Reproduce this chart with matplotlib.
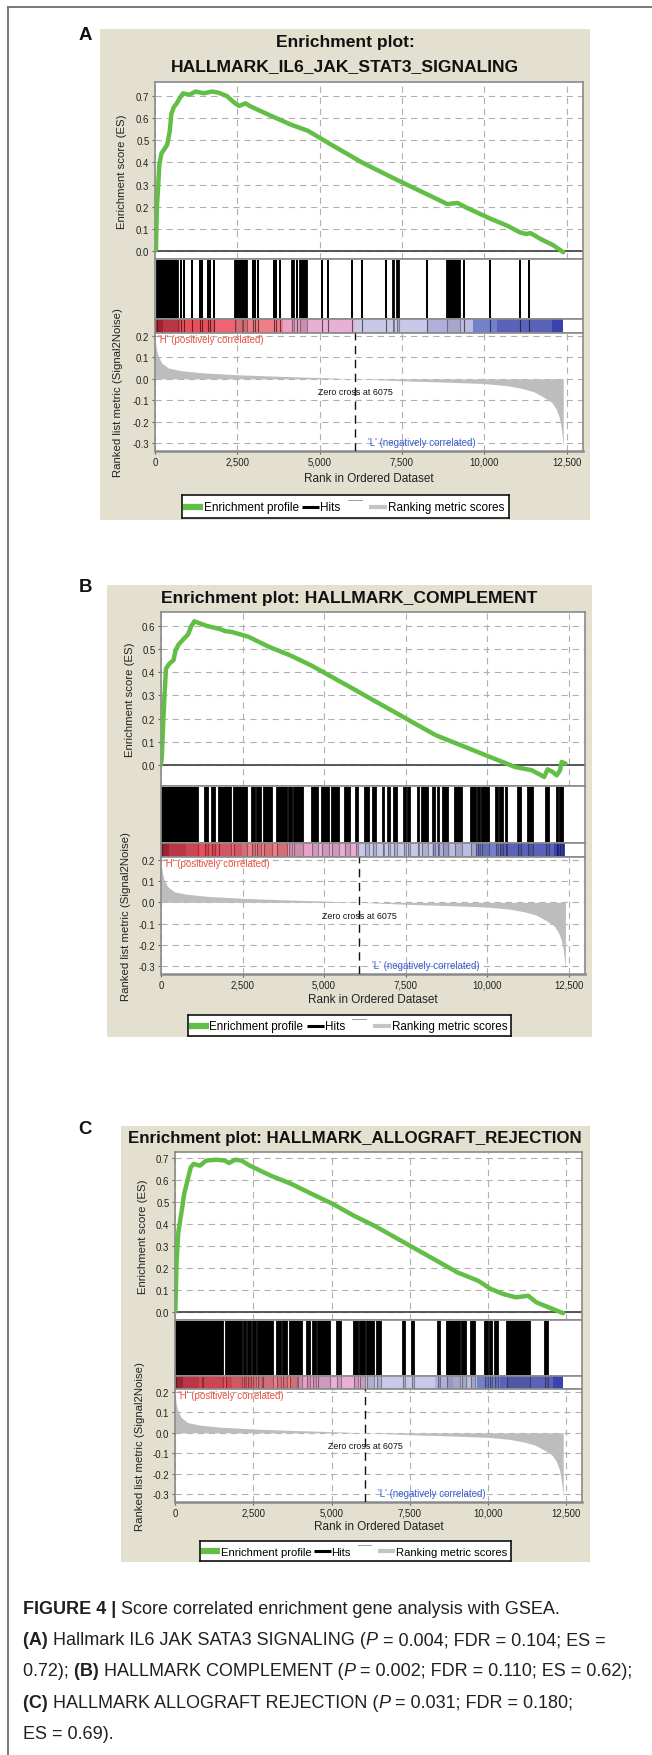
import numpy as np
import matplotlib
matplotlib.use("Agg")
import matplotlib.pyplot as plt
from matplotlib.lines import Line2D
from matplotlib.patches import Rectangle
from matplotlib.transforms import IdentityTransform

W, H, DPI = 652, 1756, 100
plt.rcParams['font.family'] = ['Liberation Sans', 'DejaVu Sans']
plt.rcParams['lines.scale_dashes'] = False

# ---------------- shared ranked gene list (Signal2Noise) ----------------
metric_rank = [0, 15, 40, 90, 200, 410, 800, 1450, 2500, 3750, 5000, 6075,
               7500, 8750, 10000, 10700, 11150, 11500, 11800, 12050, 12180,
               12280, 12340, 12370, 12400]
metric_value = [0.21, 0.17, 0.14, 0.11, 0.075, 0.05, 0.038, 0.028, 0.019,
                0.012, 0.006, 0.0, -0.009, -0.015, -0.022, -0.032, -0.045,
                -0.06, -0.085, -0.11, -0.14, -0.18, -0.23, -0.27, -0.32]
zero_cross = 6075

# colour bar of the ranked list (rank boundaries of each colour band)
band_edges = [0, 250, 760, 1820, 2490, 3890, 4610, 6075, 8300, 8870, 9660,
              10390, 12060, 12400]
band_colors = ['#b02a3a', '#d63e4e', '#e8505e', '#ee6472', '#f07e88',
               '#e9a2c6', '#e9b0d6', '#c8c9e8', '#b0aedb', '#bdbde3',
               '#7480c8', '#5b62b9', '#3a42ae']

x_ticks = [0, 2500, 5000, 7500, 10000, 12500]
x_tick_labels = ['0', '2,500', '5,000', '7,500', '10,000', '12,500']
metric_ticks = [0.2, 0.1, 0.0, -0.1, -0.2, -0.3]
metric_tick_labels = ['0.2', '0.1', '0.0', '-0.1', '-0.2', '-0.3']

# ---------------- HALLMARK_IL6_JAK_STAT3_SIGNALING ----------------
il6_rank = [0, 30, 56, 93, 131, 195, 283, 371, 447, 498, 573, 662, 750, 852,
            1041, 1231, 1483, 1736, 1925, 2178, 2431, 2558, 2747, 2874, 3379,
            4137, 4642, 5400, 6284, 7295, 7927, 8559, 8875, 9191, 9444, 10202,
            10707, 11086, 11275, 11402, 11718, 12097, 12400]
il6_es = [0.0, 0.01, 0.195, 0.285, 0.39, 0.44, 0.46, 0.48, 0.54, 0.62, 0.65,
          0.667, 0.69, 0.712, 0.705, 0.72, 0.712, 0.72, 0.715, 0.70, 0.667,
          0.655, 0.667, 0.655, 0.62, 0.57, 0.543, 0.476, 0.40, 0.325, 0.28,
          0.235, 0.212, 0.217, 0.197, 0.145, 0.114, 0.084, 0.077, 0.081,
          0.054, 0.026, -0.005]
il6_es_ticks = [0.0, 0.1, 0.2, 0.3, 0.4, 0.5, 0.6, 0.7]
il6_hits = [(52, 710), (780, 780), (890, 890), (1115, 1115), (1367, 1367),
            (1418, 1418), (1620, 1620), (1671, 1671), (1803, 1803),
            (2431, 2640), (2670, 2806), (2988, 2988), (3049, 3049),
            (3140, 3140), (3616, 3616), (3677, 3677), (3798, 3798),
            (4154, 4224), (4306, 4306), (4406, 4609), (5084, 5084),
            (5247, 5247), (5996, 5996), (6290, 6290), (7017, 7017),
            (7222, 7262), (7343, 7423), (8254, 8254), (8863, 9268),
            (9400, 9400), (10179, 10179), (11091, 11091), (11374, 11374)]

# ---------------- HALLMARK_COMPLEMENT ----------------
comp_rank = [0, 26, 64, 102, 153, 255, 383, 447, 536, 702, 830, 919, 1022,
             1149, 1405, 1788, 1979, 2171, 2682, 3320, 3959, 4597, 5236, 5874,
             6513, 7151, 7790, 8428, 9067, 9705, 10344, 10855, 11365, 11621,
             11749, 11851, 12004, 12132, 12234, 12285, 12400]
comp_es = [0.0, 0.04, 0.17, 0.286, 0.416, 0.437, 0.452, 0.495, 0.519, 0.545,
           0.563, 0.596, 0.62, 0.613, 0.6, 0.587, 0.577, 0.574, 0.553, 0.509,
           0.473, 0.43, 0.38, 0.33, 0.279, 0.229, 0.178, 0.128, 0.092, 0.056,
           0.02, -0.009, -0.023, -0.042, -0.052, -0.019, -0.03, -0.045,
           -0.023, 0.013, 0.006]
comp_es_ticks = [0.0, 0.1, 0.2, 0.3, 0.4, 0.5, 0.6]
comp_hits = [(40, 1130), (1355, 1437), (1560, 1663), (1786, 2155),
             (2237, 2637), (2791, 2894), (2946, 3058), (3150, 3408),
             (3571, 3848), (3920, 4023), (4064, 4351), (4640, 4803),
             (4948, 5151), (5254, 5459), (5634, 5810), (5973, 6055),
             (6259, 6382), (6487, 6589), (6795, 6844), (6949, 7020),
             (7152, 7226), (7460, 7512), (7583, 7645), (7872, 7922),
             (8005, 8180), (8334, 8396), (8488, 8538), (8642, 8796),
             (9021, 9236), (9513, 9667), (9720, 9791), (9852, 10058),
             (10262, 10335), (10406, 10490), (10570, 10613), (10951, 11053),
             (11259, 11413), (11801, 11905), (12131, 12182), (12232, 12337)]

# ---------------- HALLMARK_ALLOGRAFT_REJECTION ----------------
allo_rank = [0, 13, 53, 106, 173, 239, 292, 372, 438, 504, 597, 796, 995,
             1327, 1592, 1725, 1924, 2123, 2389, 3052, 3716, 4379, 5043, 5706,
             6370, 7033, 7697, 8360, 9024, 9687, 10085, 10483, 10881, 11280,
             11545, 11943, 12400]
allo_es = [0.0, 0.014, 0.24, 0.362, 0.423, 0.483, 0.536, 0.582, 0.62, 0.658,
           0.673, 0.665, 0.688, 0.692, 0.688, 0.677, 0.692, 0.688, 0.665,
           0.62, 0.582, 0.536, 0.491, 0.438, 0.392, 0.339, 0.286, 0.233,
           0.18, 0.142, 0.105, 0.082, 0.067, 0.074, 0.044, 0.021, -0.005]
allo_es_ticks = [0.0, 0.1, 0.2, 0.3, 0.4, 0.5, 0.6, 0.7]
allo_hits = [(32, 853), (906, 1546), (1620, 2131), (2206, 2270), (2344, 2420),
             (2504, 2590), (2664, 2770), (2803, 3123), (3271, 3379),
             (3443, 3571), (3676, 3890), (3943, 4050), (4230, 4316),
             (4401, 4508), (4582, 4955), (5169, 5297), (5723, 5860),
             (5914, 6074), (6148, 6362), (6448, 6576), (7289, 7362),
             (7577, 7640), (8385, 8462), (8673, 9101), (9175, 9281),
             (9453, 9581), (9900, 9985), (10061, 10134), (10220, 10326),
             (10592, 11339), (11819, 11902)]

caption_lines = [
    [("FIGURE 4 | ", 'bold', 'normal'),
     ("Score correlated enrichment gene analysis with GSEA.", 'normal', 'normal')],
    [("(A) ", 'bold', 'normal'), ("Hallmark IL6 JAK SATA3 SIGNALING (", 'normal', 'normal'),
     ("P", 'normal', 'italic'), (" = 0.004; FDR = 0.104; ES =", 'normal', 'normal')],
    [("0.72); ", 'normal', 'normal'), ("(B) ", 'bold', 'normal'),
     ("HALLMARK COMPLEMENT (", 'normal', 'normal'), ("P", 'normal', 'italic'),
     (" = 0.002; FDR = 0.110; ES = 0.62);", 'normal', 'normal')],
    [("(C) ", 'bold', 'normal'), ("HALLMARK ALLOGRAFT REJECTION (", 'normal', 'normal'),
     ("P", 'normal', 'italic'), (" = 0.031; FDR = 0.180;", 'normal', 'normal')],
    [("ES = 0.69).", 'normal', 'normal')],
]

# ---------------- styling ----------------
BEIGE = '#e3e0cf'
GREEN = '#62be45'
METRIC_GRAY = '#bdbdbd'
SPINE = '#8a8a8a'
GRID = dict(color='#b0b0b0', lw=0.8, linestyle=(0, (4.5, 3.5)))
XMAX = 13000

layouts = [
    dict(letter='A', letter_xy=(85, 36), bg=(100, 30, 590, 521),
         titles=[('Enrichment plot:', 43), ('HALLMARK_IL6_JAK_STAT3_SIGNALING', 67)],
         title_x=345, title_size=12.6,
         x0=155, x1=583, es=(83, 260), hits=(260, 320), cbar=(320, 334),
         metric=(334, 452), es_ylim=(-0.036, 0.763), metric_ylim=(-0.337, 0.214),
         xlabel_y=479, es_label_x=122, metric_label_x=118,
         legend=(182, 496, 509, 519), legend_size=8.5),
    dict(letter='B', letter_xy=(85, 587), bg=(107, 586, 592, 1038),
         titles=[('Enrichment plot: HALLMARK_COMPLEMENT', 599)],
         title_x=349, title_size=12.6,
         x0=161, x1=585, es=(613, 787), hits=(787, 844), cbar=(844, 858),
         metric=(858, 975), es_ylim=(-0.091, 0.66), metric_ylim=(-0.338, 0.214),
         xlabel_y=1000, es_label_x=130, metric_label_x=126,
         legend=(188, 1016, 511, 1037), legend_size=8.4),
    dict(letter='C', letter_xy=(85, 1129), bg=(121, 1127, 590, 1563),
         titles=[('Enrichment plot: HALLMARK_ALLOGRAFT_REJECTION', 1139)],
         title_x=355, title_size=12.2,
         x0=175, x1=582, es=(1153, 1321), hits=(1321, 1377), cbar=(1377, 1390),
         metric=(1390, 1503), es_ylim=(-0.036, 0.727), metric_ylim=(-0.339, 0.215),
         xlabel_y=1527, es_label_x=143, metric_label_x=140,
         legend=(200, 1542, 511, 1562), legend_size=8.1),
]
panel_data = [(il6_rank, il6_es, il6_es_ticks, il6_hits),
              (comp_rank, comp_es, comp_es_ticks, comp_hits),
              (allo_rank, allo_es, allo_es_ticks, allo_hits)]


def fx(x):
    return x / W


def fy(y):
    return 1 - y / H


def px_axes(fig, x0, y0, x1, y1):
    return fig.add_axes([x0 / W, 1 - y1 / H, (x1 - x0) / W, (y1 - y0) / H])


def frame(ax, color=SPINE, lw=1.2):
    for s in ax.spines.values():
        s.set_color(color)
        s.set_linewidth(lw)


def tick_style(ax):
    ax.tick_params(direction='out', length=2.5, width=0.8, color='#666666',
                   labelsize=6.9, labelcolor='#222222', pad=1.5)


def draw_panel(fig, L, es_rank, es_val, es_ticks, hits):
    bx0, by0, bx1, by1 = L['bg']
    fig.add_artist(Rectangle((fx(bx0), fy(by1)), (bx1 - bx0) / W, (by1 - by0) / H,
                             transform=fig.transFigure, facecolor=BEIGE,
                             edgecolor='none', zorder=-10))
    lx, ly = L['letter_xy']
    fig.text(fx(lx), fy(ly), L['letter'], fontsize=13.4, fontweight='bold',
             ha='center', va='center', color='#111111')
    for txt, ty in L['titles']:
        fig.text(fx(L['title_x']), fy(ty), txt, fontsize=L['title_size'],
                 fontweight='bold', ha='center', va='center', color='#111111')

    x0, x1 = L['x0'], L['x1']

    # enrichment score profile
    ax = px_axes(fig, x0, L['es'][0], x1, L['es'][1])
    ax.set_xlim(0, XMAX)
    ax.set_ylim(*L['es_ylim'])
    ax.set_axisbelow(True)
    ax.grid(True, **GRID)
    ax.axhline(0, color='#4a4a4a', lw=1.3, zorder=2)
    ax.plot(es_rank, es_val, color=GREEN, lw=3.2, solid_joinstyle='round',
            solid_capstyle='round', zorder=3)
    ax.set_xticks(x_ticks)
    ax.set_yticks(es_ticks)
    ax.set_yticklabels([f'{t:.1f}' for t in es_ticks])
    tick_style(ax)
    ax.tick_params(axis='x', length=0, labelbottom=False)
    frame(ax)

    # hit positions
    hx = px_axes(fig, x0, L['hits'][0], x1, L['hits'][1])
    hx.set_xlim(0, XMAX)
    hx.set_ylim(0, 1)
    for a, b in hits:
        if b > a:
            hx.bar(a, 0.96, width=b - a, bottom=0.02, align='edge', color='k', lw=0)
        hx.vlines([a, b], 0.02, 0.98, color='k', lw=1.3)
    hx.set_xticks([])
    hx.set_yticks([])
    frame(hx)

    # colour bar of the ranked list
    cx = px_axes(fig, x0, L['cbar'][0], x1, L['cbar'][1])
    cx.set_xlim(0, XMAX)
    cx.set_ylim(0, 1)
    cx.bar(band_edges[:-1], 1, width=np.diff(band_edges), align='edge',
           color=band_colors, lw=0)
    for a, b in hits:
        if b > a:
            cx.bar(a, 1, width=b - a, align='edge', color='k', alpha=0.12, lw=0)
        cx.vlines([a, b], 0, 1, color='k', alpha=0.35, lw=0.8)
    cx.set_xticks([])
    cx.set_yticks([])
    frame(cx)

    # ranked list metric
    mx = px_axes(fig, x0, L['metric'][0], x1, L['metric'][1])
    mx.set_xlim(0, XMAX)
    mx.set_ylim(*L['metric_ylim'])
    mx.set_axisbelow(True)
    mx.grid(True, **GRID)
    mx.fill_between(metric_rank, 0, metric_value, color=METRIC_GRAY, lw=0, zorder=2)
    mx.axvline(zero_cross, color='#111111', lw=1.0, linestyle=(0, (6, 4)), zorder=3)
    mx.text(zero_cross, -0.061, f'Zero cross at {zero_cross}', ha='center',
            va='center', fontsize=6.4, color='#111111', zorder=4)
    mx.text(90, 0.188, "'H' (positively correlated)", ha='left', va='center',
            fontsize=7.0, color='#ee4f3a', zorder=4)
    mx.text(6470, -0.295, "'L' (negatively correlated)", ha='left', va='center',
            fontsize=7.0, color='#3a5fcd', zorder=4)
    mx.set_xticks(x_ticks)
    mx.set_xticklabels(x_tick_labels)
    mx.set_yticks(metric_ticks)
    mx.set_yticklabels(metric_tick_labels)
    tick_style(mx)
    frame(mx)
    mx.spines['bottom'].set_linewidth(1.8)

    # axis titles
    fig.text(fx((x0 + x1) / 2), fy(L['xlabel_y']), 'Rank in Ordered Dataset',
             ha='center', va='center', fontsize=8.5, color='#222222')
    fig.text(fx(L['es_label_x']), fy(sum(L['es']) / 2), 'Enrichment score (ES)',
             rotation=90, ha='center', va='center', fontsize=8.2, color='#222222')
    fig.text(fx(L['metric_label_x']), fy(sum(L['metric']) / 2),
             'Ranked list metric (Signal2Noise)', rotation=90, ha='center',
             va='center', fontsize=8.2, color='#222222')

    # legend box
    gx0, gy0, gx1, gy1 = L['legend']
    lg = px_axes(fig, gx0, gy0, gx1, gy1)
    lg.set_xlim(0, 1)
    lg.set_ylim(0, 1)
    lg.set_xticks([])
    lg.set_yticks([])
    frame(lg, color='#111111', lw=1.2)
    fs = L['legend_size']
    lg.plot([0.004, 0.064], [0.5, 0.5], color=GREEN, lw=4.5, solid_capstyle='butt')
    lg.text(0.066, 0.47, 'Enrichment profile', ha='left', va='center', fontsize=fs)
    lg.plot([0.367, 0.42], [0.5, 0.5], color='k', lw=2.2, solid_capstyle='butt')
    lg.text(0.423, 0.47, 'Hits', ha='left', va='center', fontsize=fs)
    lg.plot([0.508, 0.55], [0.8, 0.8], color='#9a9a9a', lw=0.7)
    lg.plot([0.572, 0.627], [0.5, 0.5], color='#c4c4c4', lw=3.0, solid_capstyle='butt')
    lg.text(0.631, 0.47, 'Ranking metric scores', ha='left', va='center', fontsize=fs)


fig = plt.figure(figsize=(W / DPI, H / DPI), dpi=DPI)
fig.patch.set_facecolor('white')

# outer frame (top and left edges)
fig.add_artist(Line2D([fx(7.5), fx(7.5)], [0, fy(8)], transform=fig.transFigure,
                      color='#777777', lw=1.4))
fig.add_artist(Line2D([fx(7.5), 1], [fy(8), fy(8)], transform=fig.transFigure,
                      color='#777777', lw=1.4))

for L, (r, e, t, h) in zip(layouts, panel_data):
    draw_panel(fig, L, r, e, t, h)

# caption with mixed bold / italic runs
renderer = fig.canvas.get_renderer()
CAP_SIZE = 13.0


def run_width(s, weight, style):
    t1 = fig.text(0, 0, s + '|', fontsize=CAP_SIZE, fontweight=weight, fontstyle=style)
    t2 = fig.text(0, 0, '|', fontsize=CAP_SIZE, fontweight=weight, fontstyle=style)
    w = t1.get_window_extent(renderer).width - t2.get_window_extent(renderer).width
    t1.remove()
    t2.remove()
    return w


for i, parts in enumerate(caption_lines):
    x = 23.0
    y_base = 1614 + 31.2 * i
    for s, weight, style in parts:
        fig.text(x, H - y_base, s, transform=IdentityTransform(), fontsize=CAP_SIZE,
                 fontweight=weight, fontstyle=style, ha='left', va='baseline',
                 color='#231f20')
        x += run_width(s, weight, style)

fig.savefig('out.png', dpi=DPI, facecolor='white')
